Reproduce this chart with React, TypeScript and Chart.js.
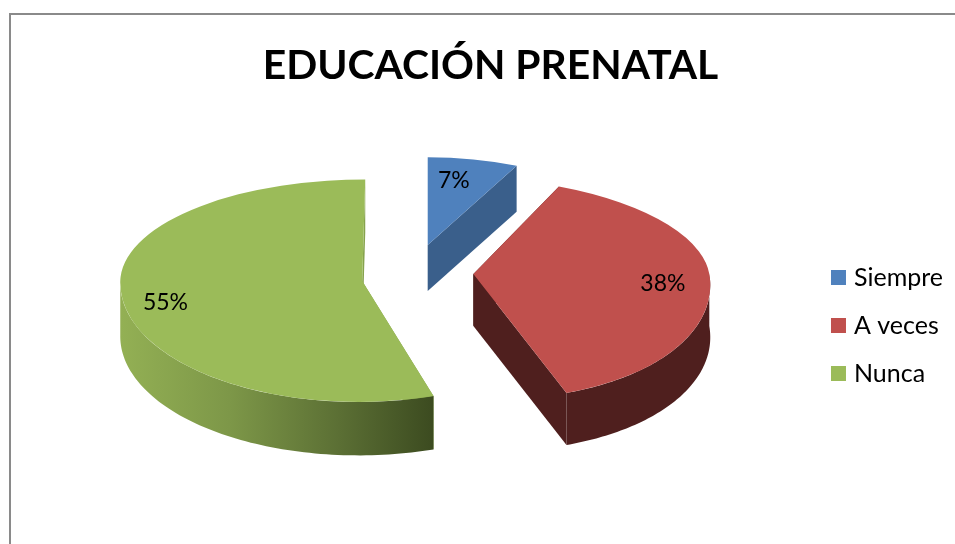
import React, { useEffect, useRef } from "react";
import { Chart, registerables } from "chart.js";

Chart.register(...registerables);

const categories = ["Siempre", "A veces", "Nunca"];
const shares = [7, 38, 55];
const faceColors = ["#4f81bd", "#c0504d", "#9bbb59"];
const sideColors = ["#3a5f8b", "#4f1f1e", "#86a34d"];
const titleText = "EDUCACIÓN PRENATAL";
const FONT = "Lato, 'Open Sans', sans-serif";

// 3-D look of the exploded pie
const RADIUS = 240;
const CENTER_X = 417.5;
const CENTER_Y = 273;
const EXPLODE = 56;
const DEPTH = 53;
const sliceScale = [0.87, 0.983, 1.008];
const sliceTiltBack = [0.42, 0.41, 0.42];
const sliceTiltFront = [0.5, 0.53, 0.5];
const sliceShear = [0, 0.17, -0.03];
const sliceNudgeX = [-2, 0, 0];
const sliceNudgeY = [-1, -1, 0];
const sliceLift = [0.5, 0.5, 0.9];
const labelReach = [0.74, 0.8, 0.83];
const labelTurn = [-0.05, 0.036, -0.06];

function frameOf(el: any, i: number) {
  const mid = (el.startAngle + el.endAngle) / 2;
  const ox = Math.cos(mid) * EXPLODE;
  const oy = Math.sin(mid) * EXPLODE;
  return {
    x: CENTER_X + ox + sliceNudgeX[i],
    y: Math.round(CENTER_Y + oy * sliceLift[i] + sliceNudgeY[i]),
    s: sliceScale[i],
    shear: sliceShear[i],
  };
}

function project(el: any, i: number, angle: number, r: number) {
  const f = frameOf(el, i);
  const k = Math.sin(angle) < 0 ? sliceTiltBack[i] : sliceTiltFront[i];
  const dy = f.s * k * r * Math.sin(angle);
  return { x: f.x + f.s * r * Math.cos(angle) + f.shear * dy, y: f.y + dy };
}

const pie3d = {
  id: "pie3d",
  beforeDatasetsDraw(chart: any) {
    const { ctx } = chart;
    const arcs = chart.getDatasetMeta(0).data;
    arcs.forEach((el: any, i: number) => {
      const f = frameOf(el, i);
      const depth = DEPTH * f.s;
      const R = el.outerRadius;
      const a0 = el.startAngle;
      const a1 = el.endAngle;
      const apex = { x: f.x, y: f.y };

      // flat cut faces
      [a0, a1].forEach((a) => {
        const p = project(el, i, a, R);
        ctx.beginPath();
        ctx.moveTo(apex.x, apex.y);
        ctx.lineTo(p.x, p.y);
        ctx.lineTo(p.x, p.y + depth);
        ctx.lineTo(apex.x, apex.y + depth);
        ctx.closePath();
        ctx.fillStyle = sideColors[i];
        ctx.fill();
      });

      // curved outer wall: only its front half shows
      const from = Math.max(a0, 0);
      const to = Math.min(a1, Math.PI);
      if (to > from) {
        const top: { x: number; y: number }[] = [];
        const steps = 80;
        for (let n = 0; n <= steps; n++) {
          top.push(project(el, i, from + ((to - from) * n) / steps, R));
        }
        ctx.beginPath();
        top.forEach((p, n) => (n ? ctx.lineTo(p.x, p.y) : ctx.moveTo(p.x, p.y)));
        [...top].reverse().forEach((p) => ctx.lineTo(p.x, p.y + depth));
        ctx.closePath();
        if (i === 2) {
          const xs = top.map((p) => p.x);
          const g = ctx.createLinearGradient(Math.min(...xs), 0, Math.max(...xs), 0);
          g.addColorStop(0, "#93b054");
          g.addColorStop(0.35, "#7d9748");
          g.addColorStop(0.7, "#5b6f34");
          g.addColorStop(1, "#3c4b20");
          ctx.fillStyle = g;
        } else {
          ctx.fillStyle = sideColors[i];
        }
        ctx.fill();
      }

      // top face: the library's own arc, tilted differently behind and in front of the apex
      [sliceTiltBack[i], sliceTiltFront[i]].forEach((k, part) => {
        ctx.save();
        ctx.beginPath();
        if (part === 0) ctx.rect(0, 0, chart.width, f.y);
        else ctx.rect(0, f.y, chart.width, chart.height - f.y);
        ctx.clip();
        ctx.translate(f.x, f.y);
        ctx.transform(f.s, 0, f.shear * f.s * k, f.s * k, 0, 0);
        ctx.translate(-el.x, -el.y);
        el.draw(ctx);
        ctx.restore();
      });
    });
    return false;
  },
  afterDraw(chart: any) {
    const { ctx } = chart;
    const arcs = chart.getDatasetMeta(0).data;
    ctx.save();
    ctx.fillStyle = "#000";
    ctx.font = `23px ${FONT}`;
    ctx.textAlign = "center";
    ctx.textBaseline = "middle";
    arcs.forEach((el: any, i: number) => {
      const mid = (el.startAngle + el.endAngle) / 2 + labelTurn[i];
      const p = project(el, i, mid, el.outerRadius * labelReach[i]);
      ctx.fillText(`${shares[i]}%`, p.x, p.y);
    });
    ctx.restore();
  },
};

export default function App() {
  const ref = useRef<HTMLCanvasElement>(null);
  useEffect(() => {
    if (!ref.current) return;
    const chart = new Chart(ref.current, {
      type: "pie",
      data: {
        labels: categories,
        datasets: [
          { data: shares, backgroundColor: faceColors, borderWidth: 0, radius: RADIUS } as any,
        ],
      },
      options: {
        responsive: false,
        animation: false,
        devicePixelRatio: 1,
        layout: { padding: { left: 28, top: 0, right: 2, bottom: 0 } },
        plugins: {
          title: {
            display: true,
            text: titleText,
            color: "#000",
            font: { family: FONT, size: 40.8, weight: "bold" },
            padding: { top: 41, bottom: 17 },
          },
          legend: {
            position: "right",
            fullSize: false,
            labels: {
              usePointStyle: true,
              pointStyle: "rect",
              boxWidth: 6,
              boxHeight: 15,
              padding: 23,
              color: "#000",
              font: { family: FONT, size: 25 },
            },
          },
          tooltip: { enabled: false },
        },
      },
      plugins: [pie3d],
    } as any);
    return () => chart.destroy();
  }, []);
  return (
    <div style={{ position: "fixed", left: 0, top: 0, width: 955, height: 544, overflow: "hidden", background: "#fff" }}>
      <div style={{ position: "absolute", left: 9, top: 13, width: 1000, height: 600, borderLeft: "2px solid #8a8a8a", borderTop: "2px solid #8a8a8a" }} />
      <canvas ref={ref} width={955} height={544} style={{ position: "absolute", left: 0, top: 0 }} />
    </div>
  );
}
